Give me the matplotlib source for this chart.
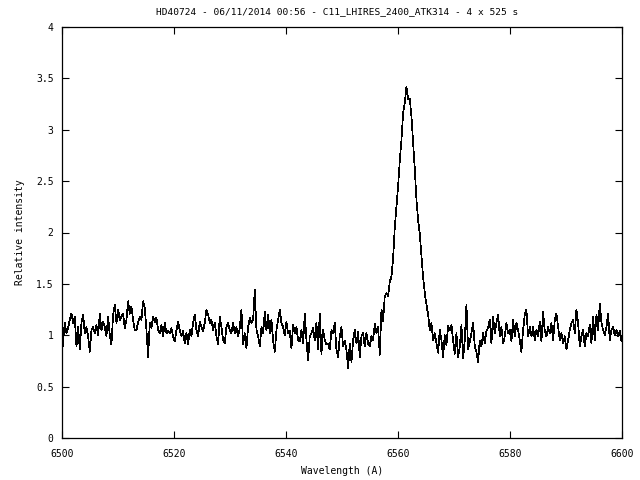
import matplotlib
matplotlib.use("Agg")
import matplotlib.pyplot as plt
import numpy as np

# relative intensity, left to right (~0.3 A steps)
flux_blue = [
    0.74, 0.95, 1.12, 1.02, 1.07, 1.15, 1.21, 1.12, 1.18, 0.89,
    1.08, 0.86, 1.12, 1.20, 1.02, 1.08, 0.99, 0.84, 1.05, 1.08,
    1.02, 1.10, 1.00, 1.21, 1.05, 1.13, 1.08, 0.99, 1.18, 1.00,
    0.91, 1.20, 1.30, 1.12, 1.25, 1.15, 1.18, 1.21, 1.07, 1.15,
    1.33, 1.21, 1.28, 1.15, 1.05, 1.05, 1.13, 1.18, 1.15, 1.33,
    1.26, 1.05, 0.79, 1.12, 1.07, 1.18, 1.13, 1.17, 1.05,
    1.02, 1.10, 0.99, 1.12, 1.02, 1.04, 1.02, 1.07, 0.99, 0.94,
    1.05, 1.13, 1.05, 0.99, 1.04, 0.92, 1.02, 0.91, 1.05, 0.99,
    1.12, 1.20, 1.05, 0.99, 1.13, 1.08, 1.04, 1.12, 1.25, 1.20,
    1.12, 1.15, 1.05, 1.12, 0.99, 0.91, 1.18, 1.08, 0.95, 0.92,
    1.08, 1.12, 1.05, 1.02, 1.12, 1.02, 1.08, 0.99, 1.07, 1.25,
    0.91, 1.02, 0.87, 1.08, 1.17, 1.12, 1.15,
    1.44, 1.05, 0.99, 0.89, 1.08, 1.02, 1.23, 1.05, 1.20, 1.02,
    1.15, 0.95, 0.84, 1.05, 1.15, 1.25, 1.12, 1.08, 1.00, 1.13,
    1.02, 1.04, 0.87, 1.10, 1.02, 1.08, 0.95, 0.94, 1.05, 0.92,
    1.21, 0.95, 0.76, 0.99, 1.02, 1.07, 0.95, 1.12, 0.86, 1.21,
    0.82, 1.05, 0.95, 0.91, 0.92, 0.86, 1.05, 1.02, 1.12, 0.86,
    0.79, 0.99, 1.08, 0.89, 0.95, 0.86, 0.68, 0.92,
]
flux_line = [
    0.74, 0.95, 1.05, 0.92, 1.03, 0.79, 0.99, 1.02, 0.89, 1.02,
    0.92, 0.89, 0.99, 0.95, 1.11, 1.02, 1.08, 0.81, 1.25, 1.14,
    1.38, 1.41, 1.38, 1.52, 1.57, 1.75, 2.05, 2.25, 2.45, 2.70,
    2.90, 3.16, 3.26, 3.42, 3.30, 3.30, 3.13, 2.88, 2.62, 2.32,
    2.12, 1.99, 1.77, 1.57, 1.41, 1.30, 1.20, 1.05, 1.12, 0.95,
    1.02, 0.92, 0.83, 1.05, 0.95, 0.79, 1.00, 0.90, 1.09, 1.05,
]
flux_red = [
    1.10, 0.95, 0.82, 1.02, 0.79, 0.89, 1.10, 0.78, 0.95, 1.30,
    0.86, 0.94, 1.02, 1.12, 0.89, 0.84, 0.74, 0.95, 0.89, 1.02,
    0.92, 1.04, 1.07, 1.15, 0.92, 1.18, 1.02, 1.12, 1.20, 0.99,
    1.08, 0.92, 0.99, 1.12, 1.02, 1.05, 0.94, 1.15, 0.99, 1.12,
    1.05, 0.95, 0.84, 1.05, 1.20, 1.25, 0.99, 1.08,
    0.99, 1.08, 0.95, 1.05, 0.99, 1.13, 0.94, 1.23, 1.04, 0.99,
    1.08, 1.02, 1.12, 0.95, 1.15, 1.21, 1.08, 0.95, 1.02, 0.92,
    0.99, 0.86, 0.95, 1.05, 1.12, 1.15, 1.02, 1.25, 1.12, 0.89,
    0.99, 1.05, 0.89, 1.02, 0.99, 1.10, 0.92, 1.18, 0.95, 1.20,
    1.05, 1.31, 1.12, 1.05, 1.00, 1.08, 1.21, 0.95, 1.05, 1.08,
    1.00, 1.05, 0.99, 1.04, 0.94,
]
flux = np.array(flux_blue + flux_line + flux_red)
wavelength = np.linspace(6499.9, 6599.9, len(flux))

title = "HD40724 - 06/11/2014 00:56 - C11_LHIRES_2400_ATK314 - 4 x 525 s"
xticks = [6500, 6520, 6540, 6560, 6580, 6600]
yticks = [0, 0.5, 1, 1.5, 2, 2.5, 3, 3.5, 4]
ytick_labels = ["0", "0.5", "1", "1.5", "2", "2.5", "3", "3.5", "4"]

plt.rcParams["font.family"] = "DejaVu Sans Mono"
plt.rcParams["font.size"] = 7

fig = plt.figure(figsize=(6.4, 4.8), dpi=100)
ax = fig.add_axes([62 / 640, 42 / 480, 560 / 640, 411 / 480])
ax.plot(wavelength, flux, color="black", lw=0.5, antialiased=False)

ax.set_xlim(6500, 6600)
ax.set_ylim(0, 4)
ax.set_xticks(xticks)
ax.set_yticks(yticks)
ax.set_yticklabels(ytick_labels)
ax.tick_params(direction="in", length=5, width=0.8, top=True, right=True)
ax.tick_params(axis="x", pad=8)
ax.tick_params(axis="y", pad=6)
for spine in ax.spines.values():
    spine.set_linewidth(0.9)

ax.set_title(title, fontsize=6.8, pad=9, x=0.492)
ax.set_xlabel("Wavelength (A)", labelpad=5)
ax.set_ylabel("Relative intensity", labelpad=8)

fig.savefig("out.png", dpi=100)
